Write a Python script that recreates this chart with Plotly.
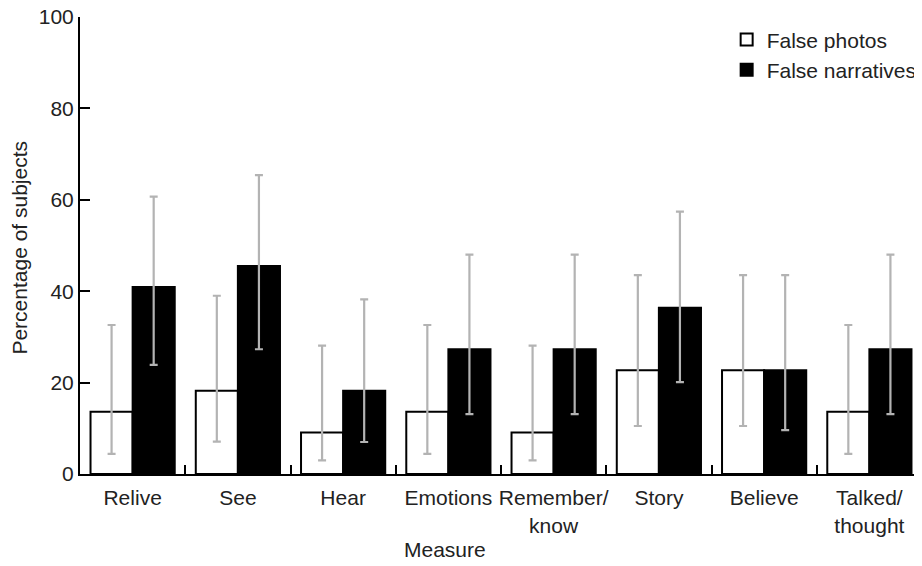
import plotly.graph_objects as go

categories = ["Relive", "See", "Hear", "Emotions", "Remember/<br>know", "Story", "Believe", "Talked/<br>thought"]
photos = [13.6, 18.2, 9.1, 13.6, 9.1, 22.7, 22.7, 13.6]
photos_hi = [32.6, 39.0, 28.1, 32.6, 28.1, 43.5, 43.5, 32.6]
photos_lo = [4.4, 7.1, 3.0, 4.4, 3.0, 10.5, 10.5, 4.4]
narr = [40.9, 45.5, 18.2, 27.3, 27.3, 36.4, 22.7, 27.3]
narr_hi = [60.7, 65.4, 38.2, 48.0, 48.0, 57.4, 43.5, 48.0]
narr_lo = [23.9, 27.3, 7.0, 13.1, 13.1, 20.1, 9.6, 13.1]

FONT = "Liberation Sans, Arial, sans-serif"
ERR = "#b3b3b3"
FS = 21

fig = go.Figure()
fig.add_trace(go.Bar(
    x=categories, y=photos, name="False photos",
    marker=dict(color="white", line=dict(color="black", width=2)),
    error_y=dict(type="data", symmetric=False,
                 array=[h - v for h, v in zip(photos_hi, photos)],
                 arrayminus=[v - l for l, v in zip(photos_lo, photos)],
                 color=ERR, thickness=2.2, width=4),
))
fig.add_trace(go.Bar(
    x=categories, y=narr, name="False narratives",
    marker=dict(color="black", line=dict(color="black", width=2)),
    error_y=dict(type="data", symmetric=False,
                 array=[h - v for h, v in zip(narr_hi, narr)],
                 arrayminus=[v - l for l, v in zip(narr_lo, narr)],
                 color=ERR, thickness=2.2, width=4),
))

fig.update_layout(
    width=914, height=558,
    margin=dict(l=72, r=0, t=9, b=92),
    paper_bgcolor="white", plot_bgcolor="white",
    barmode="group", bargap=0.2, bargroupgap=0,
    font=dict(family=FONT, size=FS, color="#222222"),
    showlegend=True,
    legend=dict(x=0.768, y=0.995, xanchor="left", yanchor="top",
                font=dict(size=FS, color="#222222"), bgcolor="rgba(0,0,0,0)",
                tracegroupgap=0, itemwidth=30),
    xaxis=dict(
        automargin=False, tickangle=0, ticklabelstandoff=4,
        showline=True, linecolor="black", linewidth=2,
        ticks="inside", tickson="boundaries", ticklen=9, tickwidth=2, tickcolor="black",
        showgrid=False, zeroline=False,
        tickfont=dict(size=FS),
    ),
    yaxis=dict(
        automargin=False, ticklabeloverflow="allow",
        range=[0, 100], tickvals=[0, 20, 40, 60, 80, 100],
        showline=True, linecolor="black", linewidth=2,
        ticks="inside", ticklen=10, tickwidth=2, tickcolor="black",
        showgrid=False, zeroline=False,
        tickfont=dict(size=FS),
    ),
    annotations=[
        dict(text="Measure", xref="paper", yref="paper", x=0.4335, y=-0.166,
             xanchor="center", yanchor="middle", showarrow=False, font=dict(size=FS)),
        dict(text="Percentage of subjects", xref="paper", yref="paper", x=-0.0715, y=0.495,
             xanchor="center", yanchor="middle", textangle=-90, showarrow=False,
             font=dict(size=FS)),
    ],
)

fig.write_html("out.html")
